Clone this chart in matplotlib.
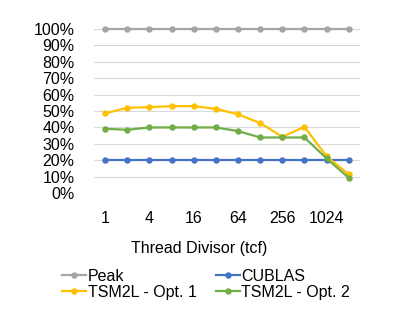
import matplotlib
matplotlib.use("Agg")
import matplotlib.pyplot as plt
import numpy as np

plt.rcParams["font.family"] = ["Liberation Sans", "DejaVu Sans"]

# Thread divisor values (tcf), 1 .. 2048
tcf = [1, 2, 4, 8, 16, 32, 64, 128, 256, 512, 1024, 2048]
tick_labels = ["1", "4", "16", "64", "256", "1024"]

peak = [100] * 12
cublas = [20] * 12
opt1 = [48.6, 52.0, 52.4, 53.0, 53.0, 51.4, 48.0, 42.7, 34.3, 40.4, 22.4, 11.4]
opt2 = [39.2, 38.6, 40.0, 40.0, 40.0, 40.0, 37.8, 33.9, 33.9, 33.9, 21.1, 9.3]

GRAY = "#A5A5A5"
BLUE = "#4472C4"
GOLD = "#FFC000"
GREEN = "#70AD47"

fig = plt.figure(figsize=(4.16, 3.16), dpi=100)
ax = fig.add_axes([0.226, 0.389, 0.639, 0.519])

x = np.arange(len(tcf))
series = [("Peak", peak, GRAY), ("CUBLAS", cublas, BLUE),
          ("TSM2L - Opt. 1", opt1, GOLD), ("TSM2L - Opt. 2", opt2, GREEN)]
handles = []
for name, vals, col in series:
    h, = ax.plot(x, vals, "o-", color=col, lw=1.6, markersize=3.6,
                 label=name, clip_on=False, zorder=3)
    handles.append(h)

ax.set_xlim(-0.5, len(tcf) - 0.5)
ax.set_ylim(0, 100)
ax.set_yticks(np.arange(0, 101, 10))
ax.set_yticklabels([f"{v}%" for v in range(0, 101, 10)], fontsize=11.5)
ax.set_xticks(x[::2])
ax.set_xticklabels(tick_labels, fontsize=11.5)
ax.tick_params(axis="y", length=0, pad=14)
ax.tick_params(axis="x", length=0, pad=13)
ax.grid(axis="y", color="#D9D9D9", lw=0.8, zorder=0)
for s in ax.spines.values():
    s.set_visible(False)

fig.text(199 / 416, 1 - 249 / 316, "Thread Divisor (tcf)", fontsize=11.5,
         ha="center", va="center")

# row-wise legend order: Peak, CUBLAS / Opt. 1, Opt. 2
order = [0, 2, 1, 3]
fig.legend([handles[i] for i in order], [series[i][0] for i in order],
           loc="upper left", bbox_to_anchor=(62 / 416, 1 - 269 / 316), ncol=2,
           frameon=False, fontsize=11.5, handlelength=1.5, handletextpad=0.1,
           columnspacing=1.2, labelspacing=0.05, borderaxespad=0, borderpad=0)

plt.savefig("out.png", dpi=100, facecolor="white")
plt.close()
